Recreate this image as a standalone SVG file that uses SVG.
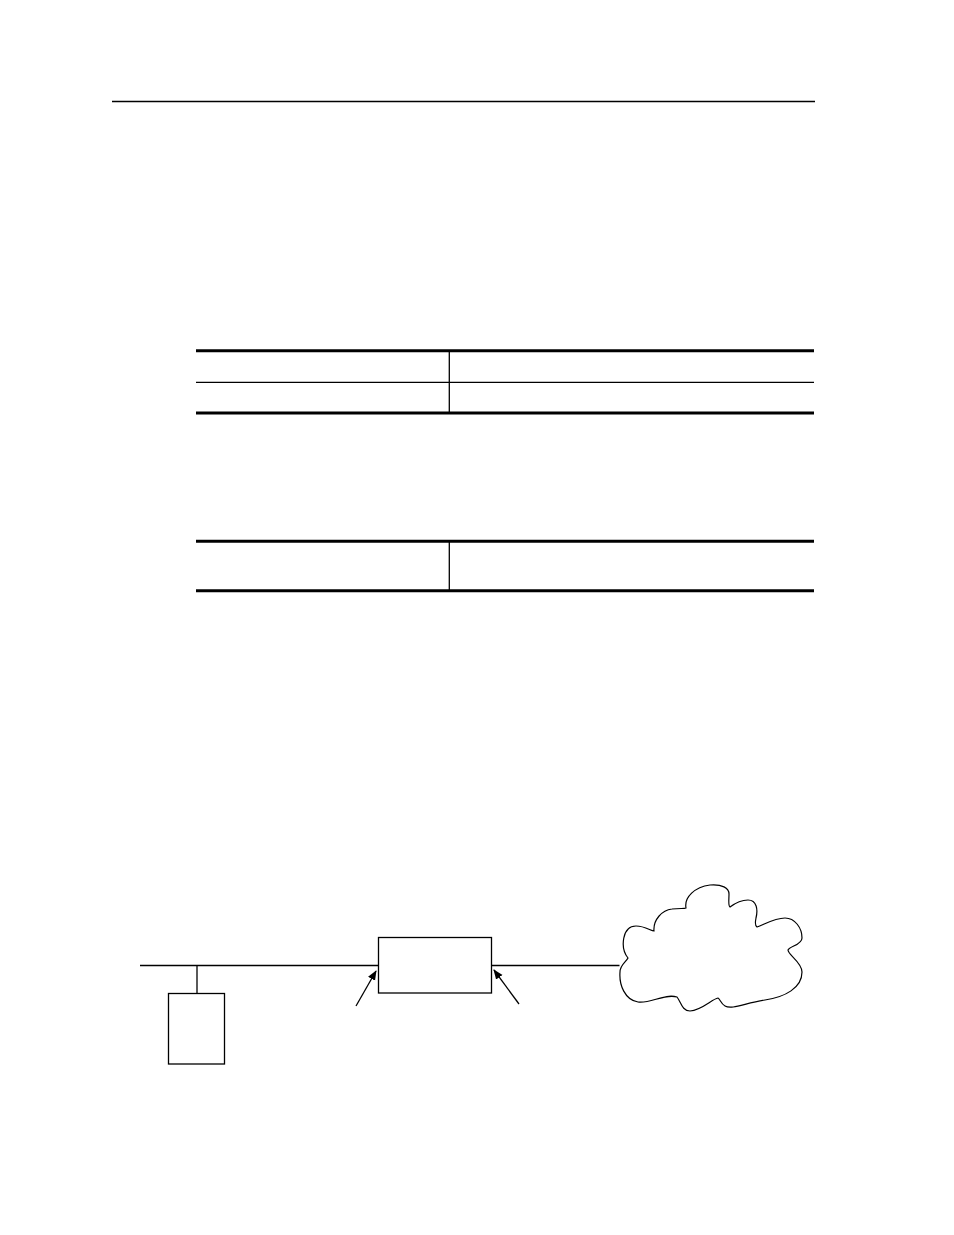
<svg xmlns="http://www.w3.org/2000/svg" width="954" height="1235" viewBox="0 0 954 1235">
<style>
.thin{stroke:#000;stroke-width:1.3;fill:none}
.thick{stroke:#000;stroke-width:3;fill:none}
.box{stroke:#000;stroke-width:1.3;fill:#fff}
.cloud{stroke:#000;stroke-width:1.2;fill:#fff}
</style>
<defs>
<marker id="arr" viewBox="0 0 10 10" refX="9" refY="5" markerWidth="10" markerHeight="10" markerUnits="userSpaceOnUse" orient="auto">
<path d="M0,1 L10,5 L0,9 Z" fill="#000"/>
</marker>
</defs>
<rect width="954" height="1235" fill="#fff"/>
<g id="header">
<line class="thin" x1="112" y1="101.5" x2="815" y2="101.5"/>
</g>
<g id="table1">
<line class="thick" x1="196" y1="350.7" x2="814" y2="350.7"/>
<line class="thin" x1="196" y1="382.3" x2="814" y2="382.3"/>
<line class="thick" x1="196" y1="413" x2="814" y2="413"/>
<line class="thin" x1="449.3" y1="350.7" x2="449.3" y2="413"/>
</g>
<g id="table2">
<line class="thick" x1="196" y1="541.3" x2="814" y2="541.3"/>
<line class="thick" x1="196" y1="590.7" x2="814" y2="590.7"/>
<line class="thin" x1="449.3" y1="541.3" x2="449.3" y2="590.7"/>
</g>
<g id="connectors">
<line class="thin" x1="140" y1="965.5" x2="378.5" y2="965.5"/>
<line class="thin" x1="197" y1="965.5" x2="197" y2="993.5"/>
<line class="thin" x1="491.5" y1="965.5" x2="619.5" y2="965.5"/>
<line class="thin" x1="356" y1="1006" x2="376" y2="971" marker-end="url(#arr)"/>
<line class="thin" x1="519" y1="1004" x2="494" y2="970" marker-end="url(#arr)"/>
</g>
<g id="router">
<rect class="box" x="378.5" y="937.5" width="113" height="55.5"/>
</g>
<g id="host">
<rect class="box" x="168.5" y="993.5" width="56" height="70.5"/>
</g>
<g id="cloud">
<path class="cloud" d="M628,958 C620,948 622,926 636,926 C645,926 651,931 654,931 C653,920 662,910 672,909 C680,908 684,909 686,908 C684,897 695,887 710,885 C722,884 729,888 729,894 C729,900 728,906 730,907 C734,904 740,900 748,900 C757,900 758,910 756,918 C755,923 755,926 757,927 C765,924 775,918 785,918 C795,918 802,928 802,938 C802,945 790,946 788,950 C788,955 802,962 802,972 C802,988 785,997 765,1000 C745,1003 732,1010 725,1006 C721,1004 720,999 718,998 C712,999 702,1010 690,1011 C682,1011 681,1002 677,997 C665,993 650,1004 638,1002 C625,1000 619,985 620,972 C620,965 626,962 628,958 Z"/>
</g>
</svg>
